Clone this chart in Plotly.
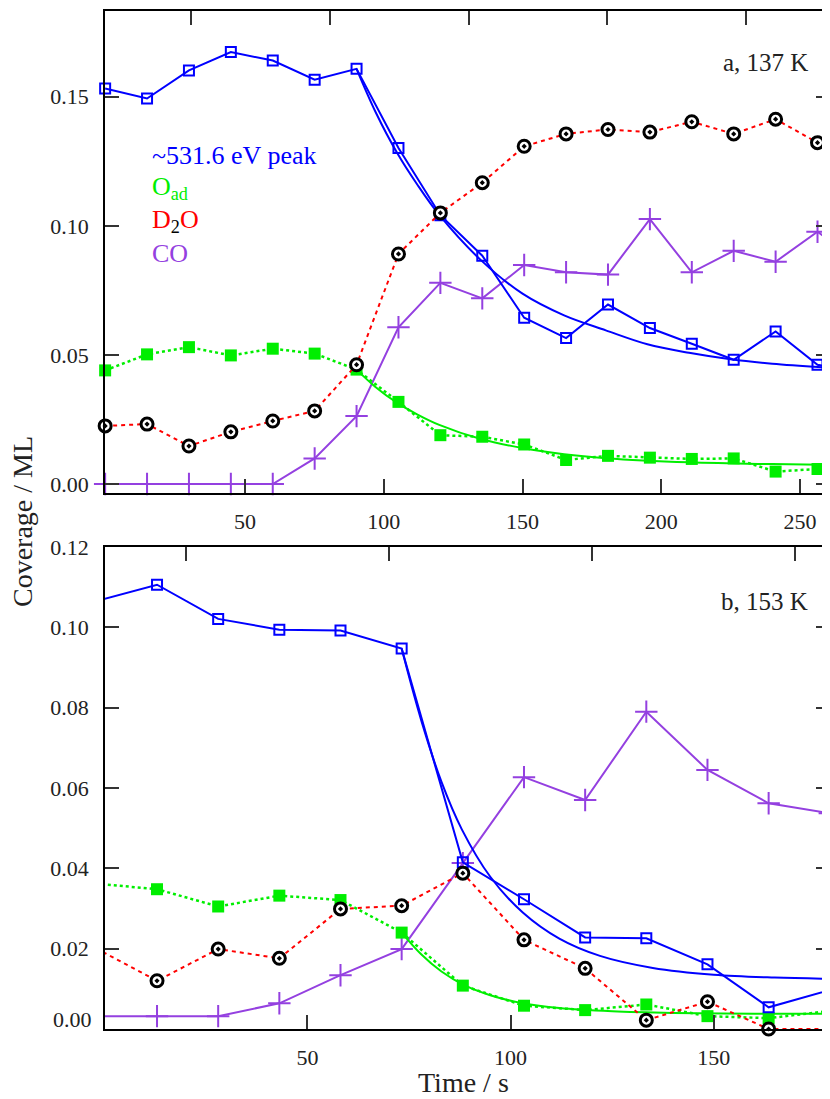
import plotly.graph_objects as go

# ---------------- panel a : 137 K ----------------
time_a = [-0.4, 14.7, 29.8, 44.9, 60.0, 75.1, 90.2, 105.3, 120.4, 135.5, 150.6,
          165.7, 180.8, 195.9, 211.0, 226.1, 241.2, 256.3, 271.4]
peak_a = [0.1532, 0.1493, 0.1602, 0.1673, 0.1640, 0.1566, 0.1608, 0.1301, 0.1041, 0.0884,
          0.0644, 0.0565, 0.0695, 0.0604, 0.0543, 0.0481, 0.0591, 0.0462, 0.0429]
oad_a = [0.0440, 0.0502, 0.0530, 0.0498, 0.0524, 0.0505, 0.0443, 0.0318, 0.0189, 0.0183,
         0.0153, 0.0093, 0.0109, 0.0102, 0.0097, 0.0099, 0.0048, 0.0058, 0.0075]
d2o_a = [0.0225, 0.0232, 0.0147, 0.0202, 0.0244, 0.0283, 0.0462, 0.0891, 0.1050, 0.1167,
         0.1308, 0.1356, 0.1373, 0.1363, 0.1403, 0.1356, 0.1413, 0.1322, 0.1386]
co_a = [0.0, 0.0, 0.0, 0.0, 0.0, 0.0099, 0.0263, 0.0607, 0.0779, 0.0719,
        0.0848, 0.0820, 0.0811, 0.1026, 0.0820, 0.0903, 0.0861, 0.0977, 0.0860]

fit_peak_time_a = [90.2, 97, 105, 112, 120, 135, 150, 165, 180, 195, 210, 225, 240, 261]
fit_peak_a = [0.1608, 0.1442, 0.1279, 0.1161, 0.1042, 0.0867, 0.0737, 0.0653, 0.0595,
              0.0541, 0.0508, 0.0483, 0.0466, 0.0450]
fit_oad_time_a = [90.2, 97, 105, 112, 120, 135, 150, 165, 180, 210, 240, 261]
fit_oad_a = [0.0443, 0.0376, 0.0313, 0.0270, 0.0229, 0.0174, 0.0139, 0.0115, 0.0100,
             0.0084, 0.0077, 0.0074]

# ---------------- panel b : 153 K ----------------
time_b = [-2.05, 13.0, 28.05, 43.1, 58.15, 73.2, 88.25, 103.3, 118.35, 133.4, 148.45, 163.5, 178.55]
peak_b = [0.1065, 0.1106, 0.1021, 0.0994, 0.0992, 0.0947, 0.0415, 0.0323, 0.0228, 0.0226,
          0.0161, 0.0054, 0.0097]
oad_b = [0.0362, 0.0348, 0.0305, 0.0332, 0.0321, 0.0240, 0.0108, 0.0058, 0.0047, 0.0061,
         0.0032, 0.0027, 0.0045]
d2o_b = [0.0201, 0.0120, 0.0199, 0.0176, 0.0299, 0.0307, 0.0388, 0.0222, 0.0151, 0.0022,
         0.0068, 0.0, 0.0]
co_b = [0.0032, 0.0032, 0.0032, 0.0064, 0.0134, 0.0199, 0.0413, 0.0627, 0.0570, 0.0790,
        0.0645, 0.0562, 0.0537]

fit_peak_time_b = [73.2, 78, 83, 88, 95, 103, 112, 122, 135, 150, 165, 179]
fit_peak_b = [0.0947, 0.0769, 0.0615, 0.0497, 0.0379, 0.0290, 0.0225, 0.0182, 0.0152,
              0.0135, 0.0128, 0.0125]
fit_oad_time_b = [73.2, 78, 83, 88.6, 95, 103, 112, 125, 140, 160, 179]
fit_oad_b = [0.0240, 0.0186, 0.0143, 0.0109, 0.0084, 0.0064, 0.0052, 0.0044, 0.0040,
             0.0038, 0.0038]

# tick labels / texts
xticks_a = [50, 100, 150, 200, 250]
xticks_top_a = [30.6, 80.6, 130.6, 180.6, 230.6]
yticks_a = [0.00, 0.05, 0.10, 0.15]
xticks_b = [50, 100, 150]
xticks_top_b = [20.2, 70.2, 120.1, 170.1]
yticks_b = [0.02, 0.04, 0.06, 0.08, 0.10, 0.12]
legend_labels = ["~531.6 eV peak", "O<sub>ad</sub>",
                 "D<sub><span style='color:black'>2</span></sub>O", "CO"]

# ---------------- style ----------------
BLUE = "#0000ff"
GREEN = "#00ee00"
RED = "#ff0000"
PURPLE = "#9440e0"
FONT = "Liberation Serif"
XR_A = [-0.45, 260.8]
XR_B = [0.2, 178.6]
YR_A = [-0.0035, 0.1832]
YR_B = [0.0, 0.12]

fig = go.Figure()


def visible(t, v, rng):
    xs, ys = [], []
    for a, b in zip(t, v):
        if rng[0] - 1 <= a <= rng[1] + 1:
            xs.append(a)
            ys.append(b)
    return xs, ys


def add_series(t, v, xa, ya, rng, color, dash, width, msym, msize, mcolor, mline_color, mline_w):
    fig.add_trace(go.Scatter(x=t, y=v, xaxis=xa, yaxis=ya, mode="lines",
                             line=dict(color=color, width=width, dash=dash),
                             showlegend=False, hoverinfo="skip"))
    xs, ys = visible(t, v, rng)
    fig.add_trace(go.Scatter(x=xs, y=ys, xaxis=xa, yaxis=ya, mode="markers", cliponaxis=False,
                             marker=dict(symbol=msym, size=msize, color=mcolor,
                                         line=dict(color=mline_color, width=mline_w)),
                             showlegend=False, hoverinfo="skip"))


def add_fit(t, v, xa, ya, color):
    fig.add_trace(go.Scatter(x=t, y=v, xaxis=xa, yaxis=ya, mode="lines",
                             line=dict(color=color, width=2, shape="spline", smoothing=1.0),
                             showlegend=False, hoverinfo="skip"))


for (t, pk, oa, d2, co, fpt, fp, fot, fo, xa, ya, rng) in [
    (time_a, peak_a, oad_a, d2o_a, co_a, fit_peak_time_a, fit_peak_a, fit_oad_time_a, fit_oad_a, "x", "y", XR_A),
    (time_b, peak_b, oad_b, d2o_b, co_b, fit_peak_time_b, fit_peak_b, fit_oad_time_b, fit_oad_b, "x2", "y2", XR_B),
]:
    add_series(t, co, xa, ya, rng, PURPLE, "solid", 2, "cross-thin-open", 16, PURPLE, PURPLE, 2)
    add_fit(fot, fo, xa, ya, GREEN)
    add_series(t, oa, xa, ya, rng, GREEN, "dot", 2.5, "square", 12, GREEN, GREEN, 0)
    add_fit(fpt, fp, xa, ya, BLUE)
    add_series(t, pk, xa, ya, rng, BLUE, "solid", 2, "square-open", 10, BLUE, BLUE, 2)
    add_series(t, d2, xa, ya, rng, RED, "4px,4px", 2, "circle-dot", 12, "white", "black", 3)

# dummy traces to register the top (offset-tick) axes
fig.add_trace(go.Scatter(x=[None], y=[None], xaxis="x3", yaxis="y", showlegend=False, hoverinfo="skip"))
fig.add_trace(go.Scatter(x=[None], y=[None], xaxis="x4", yaxis="y2", showlegend=False, hoverinfo="skip"))

tickfont = dict(family=FONT, size=22, color="#222")
common_x = dict(showgrid=False, zeroline=False, showline=True, linecolor="black", linewidth=1.6,
                ticks="inside", ticklen=14, tickwidth=1.5, tickcolor="#333", tickfont=tickfont,
                ticklabelstandoff=8, automargin=False)
common_y = dict(showgrid=False, zeroline=False, showline=True, linecolor="black", linewidth=1.6,
                ticks="inside", ticklen=14, tickwidth=1.5, tickcolor="#333", tickfont=tickfont,
                mirror="ticks", ticklabelstandoff=10, automargin=False)

# the page body adds an 8 px margin on the top and left; the figure is sized to compensate
fig.update_layout(
    width=822, height=1091,
    margin=dict(l=97, r=0, t=3, b=70, autoexpand=False),
    paper_bgcolor="white", plot_bgcolor="white",
    showlegend=False,
    xaxis=dict(common_x, domain=[0, 1], anchor="y", range=XR_A, tickvals=xticks_a,
               ticktext=[str(v) for v in xticks_a]),
    yaxis=dict(common_y, domain=[0.5265, 1], anchor="x", range=YR_A, tickvals=yticks_a,
               ticktext=[f"{v:.2f}" for v in yticks_a]),
    xaxis2=dict(common_x, domain=[0, 1], anchor="y2", range=XR_B, tickvals=xticks_b,
                ticktext=[str(v) for v in xticks_b]),
    yaxis2=dict(common_y, domain=[0, 0.4735], anchor="x2", range=YR_B, tickvals=yticks_b,
                ticktext=[f"{v:.2f}" for v in yticks_b]),
    xaxis3=dict(common_x, overlaying="x", side="top", anchor="y", range=XR_A,
                tickvals=xticks_top_a, showticklabels=False),
    xaxis4=dict(common_x, overlaying="x2", side="top", anchor="y2", range=XR_B,
                tickvals=xticks_top_b, showticklabels=False),
)

ann = []
legend_colors = [BLUE, GREEN, RED, PURPLE]
legend_y = [0.8585, 0.8261, 0.7937, 0.7613]
for lab, col, yy in zip(legend_labels, legend_colors, legend_y):
    ann.append(dict(text=lab, xref="paper", yref="paper", x=0.062, y=yy, xanchor="left",
                    yanchor="middle", showarrow=False, font=dict(family=FONT, size=26, color=col)))
ann.append(dict(text="a, 137 K", xref="paper", yref="paper", x=0.9724, y=0.9499, xanchor="right",
                yanchor="middle", showarrow=False, font=dict(family=FONT, size=25, color="#222")))
ann.append(dict(text="b, 153 K", xref="paper", yref="paper", x=0.9724, y=0.4204, xanchor="right",
                yanchor="middle", showarrow=False, font=dict(family=FONT, size=25, color="#222")))
ann.append(dict(text="0.00", xref="paper", yref="paper", x=0, y=0.0098, xanchor="right",
                yanchor="middle", xshift=-11, showarrow=False, font=tickfont))
ann.append(dict(text="Coverage / ML", xref="paper", yref="paper", x=-0.1145, y=0.499,
                xanchor="center", yanchor="middle", textangle=-90, showarrow=False,
                font=dict(family=FONT, size=28, color="#222")))
ann.append(dict(text="Time / s", xref="paper", yref="paper", x=0.4938, y=-0.053,
                xanchor="center", yanchor="middle", showarrow=False,
                font=dict(family=FONT, size=28, color="#222")))
fig.update_layout(annotations=ann)

fig.write_html("out.html")
